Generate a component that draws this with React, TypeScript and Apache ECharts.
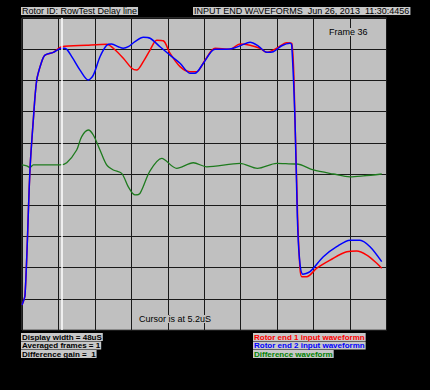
import React, { useEffect, useRef } from "react";
import * as echarts from "echarts";

// time axis in microseconds, amplitude in screen divisions (0..10)
const displayWidthUs = 48;
const cursorUs = 5.2;
const xDivisions = 10;
const yDivisions = 10;

const rotorEnd1: [number, number][] = [
  [0, 0.8], [0.4, 1.12], [1.05, 5.13], [1.49, 6.73], [1.94, 8.01], [2.59, 8.6],
  [3.03, 8.81], [4.12, 8.9], [5.23, 9.08], [8.52, 9.13], [11.15, 9.16],
  [12.02, 9.03], [13.34, 8.71], [14.45, 8.39], [15.1, 8.33], [15.97, 8.6],
  [16.86, 8.97], [17.74, 9.29], [18.61, 9.27], [19.49, 8.87], [20.81, 8.44],
  [22.12, 8.28], [23.0, 8.28], [24.1, 8.65], [25.42, 9.03], [27.39, 9.0],
  [28.71, 9.17], [30.03, 9.13], [31.35, 9.03], [32.22, 8.9], [33.54, 9.03],
  [34.86, 9.21], [35.52, 9.19], [35.95, 6.73], [36.3, 3.6], [36.6, 2.0],
  [36.84, 1.71], [37.5, 1.71], [38.82, 1.98], [40.57, 2.24], [42.77, 2.51],
  [44.08, 2.53], [45.4, 2.4], [46.72, 2.14], [47.37, 1.98],
];

const rotorEnd2: [number, number][] = [
  [0, 0.8], [0.4, 1.12], [1.05, 5.13], [1.49, 6.73], [1.94, 8.01], [2.59, 8.6],
  [3.03, 8.81], [4.12, 8.9], [5.23, 9.03], [5.66, 9.03], [6.55, 8.76],
  [7.64, 8.33], [8.73, 8.01], [9.39, 8.17], [10.27, 8.76], [11.15, 9.13],
  [11.81, 9.17], [12.68, 9.08], [13.34, 9.03], [14.0, 9.08], [14.88, 9.24],
  [15.97, 9.38], [16.86, 9.35], [18.17, 9.08], [19.49, 8.81], [20.81, 8.55],
  [22.12, 8.23], [22.78, 8.23], [23.88, 8.55], [25.42, 9.0], [26.96, 9.0],
  [27.83, 9.03], [28.93, 9.13], [30.03, 9.22], [31.12, 9.1], [32.22, 8.9],
  [33.09, 8.92], [34.2, 9.11], [35.29, 9.19], [35.52, 9.13], [35.95, 6.73],
  [36.26, 3.63], [36.52, 2.35], [36.97, 1.79], [37.93, 1.87], [39.68, 2.35],
  [41.44, 2.67], [43.2, 2.88], [44.51, 2.88], [45.83, 2.67], [47.37, 2.19],
];

const differenceWave: [number, number][] = [
  [0, 5.29], [0.62, 5.26], [1.05, 5.21], [1.49, 5.29], [5.0, 5.29], [5.89, 5.36],
  [7.2, 5.77], [7.86, 6.2], [8.73, 6.41], [9.39, 6.25], [10.27, 5.77],
  [11.15, 5.29], [12.02, 5.13], [13.13, 5.02], [14.0, 4.59], [14.88, 4.33],
  [15.54, 4.38], [16.86, 5.1], [18.4, 5.5], [20.37, 5.18], [22.56, 5.36],
  [24.32, 5.23], [28.71, 5.34], [31.0, 5.18], [33.54, 5.34], [35.95, 5.32],
  [36.18, 5.32], [38.37, 5.13], [41.0, 5.0], [43.2, 4.91], [44.95, 4.94],
  [47.37, 5.0],
];

const titleLeft = "Rotor ID: RowTest Delay line";
const titleRight = "INPUT END WAVEFORMS  Jun 26, 2013  11:30:4456";
const frameLabel = "Frame 36";
const cursorLabel = "Cursor is at 5.2uS";
const infoLines = ["Display width = 48uS", "Averaged frames = 1", "Difference gain =  1"];
const legendNames = ["Rotor end 1 input waveformn", "Rotor end 2 input waveformn", "Difference waveform"];
const legendColors = ["#ff0000", "#0000ff", "#008000"];

const FONT = "Liberation Sans, Arial, sans-serif";

export default function App() {
  const ref = useRef<HTMLDivElement>(null);

  useEffect(() => {
    document.body.style.margin = "0";
    document.body.style.background = "#000";
    if (!ref.current) return;
    const chart = echarts.init(ref.current, null, { renderer: "svg" });

    const boxText = (
      text: string,
      x: number,
      y: number,
      color: string,
      bg: string,
      size: number,
      weight: string
    ) => ({
      type: "text",
      x,
      y,
      style: {
        text,
        fill: color,
        font: `${weight} ${size}px ${FONT}`,
        backgroundColor: bg,
        padding: [0, 1, 0, 1],
        lineHeight: 8,
        verticalAlign: "top",
        align: "left",
      },
      z: 10,
    });

    const graphics: any[] = [
      boxText(titleLeft, 21, 7, "#000", "#c8c8c8", 9, "normal"),
      boxText(titleRight, 193, 7, "#000", "#c8c8c8", 9, "normal"),
      boxText(frameLabel, 328, 28, "#000", "#c0c0c0", 9, "normal"),
      boxText(cursorLabel, 138, 315, "#000", "#c0c0c0", 9, "normal"),
    ];
    infoLines.forEach((t, i) =>
      graphics.push(boxText(t, 21, 333 + i * 8.5, "#000", "#c8c8c8", 8, "bold"))
    );
    legendNames.forEach((t, i) =>
      graphics.push(boxText(t, 253, 333 + i * 8.5, legendColors[i], "#c8c8c8", 8, "bold"))
    );

    chart.setOption({
      animation: false,
      backgroundColor: "#000",
      grid: {
        left: 22,
        top: 18,
        right: 43.5,
        bottom: 60,
        show: true,
        backgroundColor: "#c0c0c0",
        borderColor: "#555",
        borderWidth: 1,
      },
      xAxis: {
        type: "value",
        min: 0,
        max: displayWidthUs,
        interval: displayWidthUs / xDivisions,
        axisLine: { show: false },
        axisTick: { show: false },
        axisLabel: { show: false },
        splitLine: { show: true, lineStyle: { color: "#1a1a1a", width: 1 } },
      },
      yAxis: {
        type: "value",
        min: 0,
        max: yDivisions,
        interval: 1,
        axisLine: { show: false },
        axisTick: { show: false },
        axisLabel: { show: false },
        splitLine: { show: true, lineStyle: { color: "#1a1a1a", width: 1 } },
      },
      series: [
        {
          name: legendNames[2],
          type: "line",
          data: differenceWave,
          showSymbol: false,
          smooth: 0.3,
          lineStyle: { color: "#1e7b1e", width: 1.3 },
          z: 2,
          markLine: {
            silent: true,
            symbol: "none",
            label: { show: false },
            lineStyle: { color: "#ffffff", width: 1.5, type: "solid" },
            data: [{ xAxis: cursorUs }],
          },
        },
        {
          name: legendNames[0],
          type: "line",
          data: rotorEnd1,
          showSymbol: false,
          smooth: 0.3,
          lineStyle: { color: "#ff0000", width: 1.5 },
          z: 3,
        },
        {
          name: legendNames[1],
          type: "line",
          data: rotorEnd2,
          showSymbol: false,
          smooth: 0.3,
          lineStyle: { color: "#0000ff", width: 1.5 },
          z: 4,
        },
      ],
      graphic: graphics,
    });

    return () => chart.dispose();
  }, []);

  return <div ref={ref} style={{ width: 430, height: 390, background: "#000" }} />;
}
